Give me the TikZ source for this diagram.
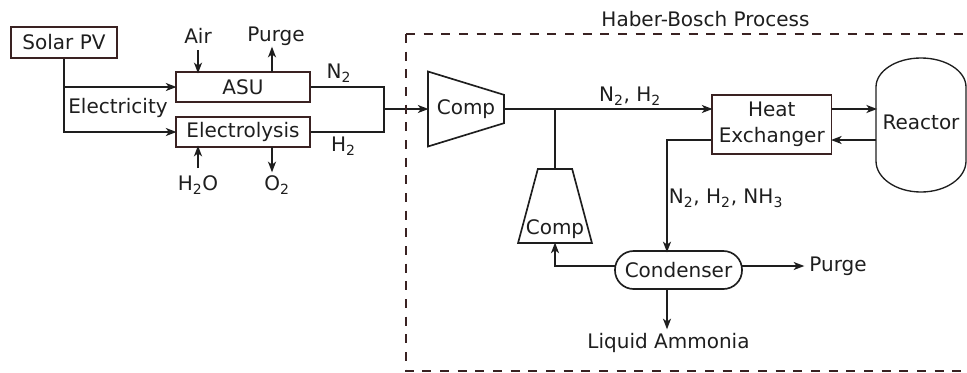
\documentclass[tikz,border=0pt]{standalone}
\usepackage{fontspec}
\setmainfont{DejaVu Sans}
\usetikzlibrary{positioning}
\usetikzlibrary{calc}
\usetikzlibrary{shapes}
\usetikzlibrary{arrows.meta}
\definecolor{boxbrown}{HTML}{3A2222}
\definecolor{linegrey}{HTML}{1E1E1E}
\newcommand{\subs}[1]{\textsubscript{#1}}
\begin{document}
\begin{tikzpicture}[
         x=0.75pt,y=-0.75pt,
         flow/.style={->,linegrey,line width=1.25pt,shorten >=-1pt},
         line/.style={linegrey,line width=1.25pt},
         >={Stealth[length=8pt,width=6pt,inset=2.2pt]},
         unit/.style={draw=boxbrown,line width=1.25pt,rectangle,inner sep=0pt,align=center},
         lbl/.style={inner sep=0pt,align=center,text=linegrey},
      every node/.append style={font=\fontsize{15pt}{19.5pt}\selectfont,text=linegrey}]
      \useasboundingbox (0,0) rectangle (967,372);
      %
         \node (solar) at (64,42.5) [unit,minimum width=79.5pt,minimum height=23.25pt]{Solar PV};
         \node (asu) at (243,87) [unit,minimum width=100.5pt,minimum height=22.5pt]{ASU};
         \node (elec) at (243,132) [unit,minimum width=100.5pt,minimum height=22.5pt]{Electrolysis};
         \node (elecl) at (118,108) [lbl]{Electricity};
         \draw[flow](solar.south)|-(asu.west);
         \draw[flow](solar.south)|-(elec.west);
      %
         \node (air) at (198,36) [lbl]{Air};
         \node (purgea) at (276,36) [lbl]{Purge};
         \node (water) at (198,185) [lbl]{H\subs{2}O};
         \node (oxy) at (277,185) [lbl]{O\subs{2}};
         \coordinate (asuin) at (198,72);
         \coordinate (asuout) at (272,72);
         \coordinate (elin) at (198,147);
         \coordinate (elout) at (272,147);
         \draw[flow](198,50)--(asuin);
         \draw[flow](asuout)--(272,48);
         \draw[flow](198,168)--(elin);
         \draw[flow](elout)--(272,171);
      %%
         \node (ntwo) at (339,73) [lbl]{N\subs{2}};
         \node (htwo) at (343.5,146) [lbl]{H\subs{2}};
         \coordinate (mix) at (384,109);
         \draw[line](asu.east)-|(mix);
         \draw[line](elec.east)-|(mix);
      %
         \node (comp) at (466,109) [draw=linegrey,line width=1.25pt,trapezium,trapezium stretches=true,
            shape border rotate=270,trapezium left angle=75,trapezium right angle=75,
            minimum width=56.25pt,minimum height=57pt,inner sep=0pt]{Comp};
         \draw[flow](mix)--(comp.west);
      %
         \node (hx) at (771.75,124.5) [unit,minimum width=89.6pt,minimum height=44.25pt]{Heat \\ Exchanger};
         \node (hb) at (705.5,19) [lbl]{Haber-Bosch Process};
         \node (nh) at (630,96) [lbl]{N\subs{2}, H\subs{2}};
         \draw[flow](comp.east)--(hx.west |- comp.east);
      %
         \node (reactor) at (921,122) [minimum width=67.5pt,inner sep=0pt]{Reactor};
         \draw[linegrey,line width=1pt] (876,87) arc[x radius=33.75pt,y radius=21.75pt,start angle=180,end angle=0]
            -- (966,161) arc[x radius=33.75pt,y radius=23.25pt,start angle=0,end angle=-180] -- cycle;
         \draw[flow](hx.east |- comp.east)--(reactor.west |- comp.east);
         \coordinate (back) at (876,140);
         \draw[flow](back)--(hx.east |- back);
      %%
         \node (cond) at (678.5,270) [draw=linegrey,line width=1.25pt,rectangle,rounded corners=14pt,
            minimum width=95.25pt,minimum height=28.5pt,inner sep=0pt]{Condenser};
         \coordinate (condtop) at (667,251);
         \coordinate (condbot) at (667,289);
         \draw[flow](hx.west |- back)-|(condtop);
         \node (nhh) at (726,198) [lbl]{N\subs{2}, H\subs{2}, NH\subs{3}};
         \node (purgeb) at (838,266) [lbl]{Purge};
         \node (liq) at (668.5,343) [lbl]{Liquid Ammonia};
         \coordinate (condout) at (742,266);
         \coordinate (condleft) at (615,266);
         \draw[flow](condout)--(803,266);
         \draw[flow](condbot)--(667,328);
      %
         \node (recomp) at (555,206) [draw=linegrey,line width=1.25pt,trapezium,trapezium stretches=true,
            trapezium left angle=62,trapezium right angle=62,
            minimum width=55.5pt,minimum height=55.5pt,inner sep=0pt]{\phantom{C}};
         \node (recompl) at (555,229) [lbl]{Comp};
         \draw[line](555,109)--(recomp.north);
         \draw[flow](condleft)-|(recomp.south);
      %%
         \draw[boxbrown,line width=1.1pt,dash pattern=on 6.75pt off 6.5pt] (406,34)--(967,34);
         \draw[boxbrown,line width=1.1pt,dash pattern=on 6.75pt off 6.5pt] (406,34)--(406,371)--(967,371);
   \end{tikzpicture}
\end{document}
